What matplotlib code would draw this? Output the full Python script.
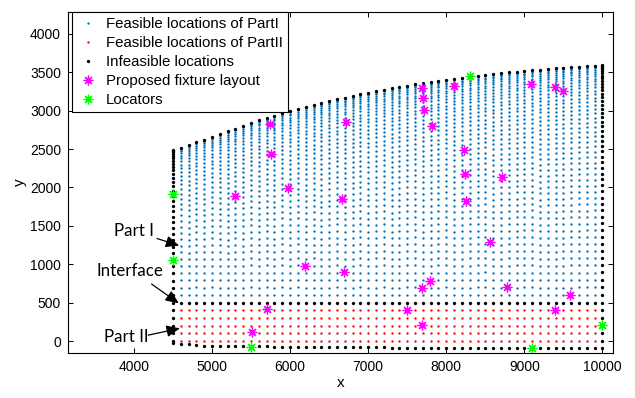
import matplotlib
matplotlib.use("Agg")
import matplotlib.pyplot as plt
import numpy as np

# mesh outline
top_x = [4500, 5000, 5500, 6000, 6500, 7000, 7500, 8000, 8500, 9000, 9500, 10000]
top_y = [2482, 2655, 2840, 3000, 3124, 3235, 3326, 3400, 3467, 3518, 3557, 3592]
bottom_x = [4500, 4900, 5500, 7100, 9000, 10000]
bottom_y = [-30, -57, -68, -82, -92, -88]
interface_y = 500
part2_rows = [0, 100, 200, 300, 400]
x_left, x_right, x_step = 4500, 10000, 100
row_step = 100       # spacing of part I rows near the interface
grading = 1.6        # rows get denser toward the top edge

# proposed fixture layout
fix_x = [5740, 5761, 5288, 5975, 6721, 6665, 6188, 6691, 5706, 5506,
         7693, 7701, 7710, 7821, 8094, 8221, 8234, 8247, 8717, 9087,
         9394, 9492, 8563, 7787, 7689, 8780, 9578, 7496, 9386, 7693]
fix_y = [2826, 2439, 1887, 1991, 2852, 1852, 982, 904, 413, 121,
         3291, 3165, 3013, 2804, 3326, 2482, 2169, 1830, 2135, 3352,
         3309, 3257, 1287, 787, 687, 700, 604, 404, 404, 204]

# locators
loc_x = [4500, 4500, 8300, 5500, 9100, 10000]
loc_y = [1917, 1056, 3445, -72, -95, 209]

# build node sets
cols = np.arange(x_left, x_right + 1, x_step)
tops = np.interp(cols, top_x, top_y)
bots = np.interp(cols, bottom_x, bottom_y)

blue_x, blue_y, red_x, red_y, blk_x, blk_y = [], [], [], [], [], []
for cx, ty, by in zip(cols, tops, bots):
    rng = ty - interface_y
    n = int(round(rng * grading / row_step))
    s = np.arange(1, n) / n
    ys = interface_y + rng * (1 - (1 - s) ** grading)
    if cx in (x_left, x_right):
        blk_x += [cx] * (len(ys) + len(part2_rows))
        blk_y += list(ys) + part2_rows
    else:
        blue_x += [cx] * len(ys)
        blue_y += list(ys)
        red_x += [cx] * len(part2_rows)
        red_y += part2_rows
    blk_x += [cx, cx, cx]
    blk_y += [ty, interface_y, by]

fig = plt.figure(figsize=(6.35, 3.98), dpi=100)
ax = fig.add_axes([0.107, 0.112, 0.859, 0.859])

h1, = ax.plot(blue_x, blue_y, ".", color="#0072BD", ms=3.4, mew=0, label="Feasible locations of PartI")
h2, = ax.plot(red_x, red_y, ".", color="#FF0000", ms=3.4, mew=0, label="Feasible locations of PartII")
h3, = ax.plot(blk_x, blk_y, ".", color="black", ms=4.8, mew=0, label="Infeasible locations")
star = (8, 2, 0)
h4, = ax.plot(fix_x, fix_y, ls="none", marker=star, color="#FF00FF", ms=7, mew=0.9,
              label="Proposed fixture layout")
h5, = ax.plot(loc_x, loc_y, ls="none", marker=star, color="#00FF00", ms=7, mew=0.9,
              label="Locators")

ax.set_xlim(3155, 10140)
ax.set_ylim(-160, 4290)
ax.set_xticks(range(4000, 10001, 1000))
ax.set_yticks(range(0, 4001, 500))
ax.tick_params(direction="in", top=True, right=True, length=3.6, width=0.7,
               labelsize=10, pad=5)
for sp in ax.spines.values():
    sp.set_linewidth(0.8)
for lab in ax.get_xticklabels() + ax.get_yticklabels():
    lab.set_family("Liberation Sans")

ax.set_xlabel("x", fontsize=11, family="Liberation Sans", labelpad=1)
ax.set_ylabel("y", fontsize=11, family="Liberation Sans", labelpad=2)

leg = ax.legend(handles=[h1, h2, h3, h4, h5], loc="upper left",
                bbox_to_anchor=(71.7 / 635, 1 - 12 / 398), bbox_transform=fig.transFigure,
                borderaxespad=0, fancybox=False, framealpha=1, edgecolor="black",
                prop={"family": "Liberation Sans", "size": 10.8},
                handlelength=1.5, handletextpad=0.45, labelspacing=0.33,
                borderpad=0.33)
leg.get_frame().set_linewidth(0.8)

arrow = dict(arrowstyle="-|>,head_length=0.8,head_width=0.35", color="black", lw=0.9,
             shrinkA=0, shrinkB=0)
note_font = dict(family="Lato", fontsize=12.2, ha="center", va="center")
ax.annotate("", xy=(4579, 1243), xytext=(4295, 1336), arrowprops=arrow)
ax.text(4006, 1435, "Part I", **note_font)
ax.annotate("", xy=(4575, 492), xytext=(4226, 743), arrowprops=arrow)
ax.text(3955, 913, "Interface", **note_font)
ax.annotate("", xy=(4588, 166), xytext=(4183, 78), arrowprops=arrow)
ax.text(3904, 52, "Part II", **note_font)

fig.savefig("out.png", dpi=100)
